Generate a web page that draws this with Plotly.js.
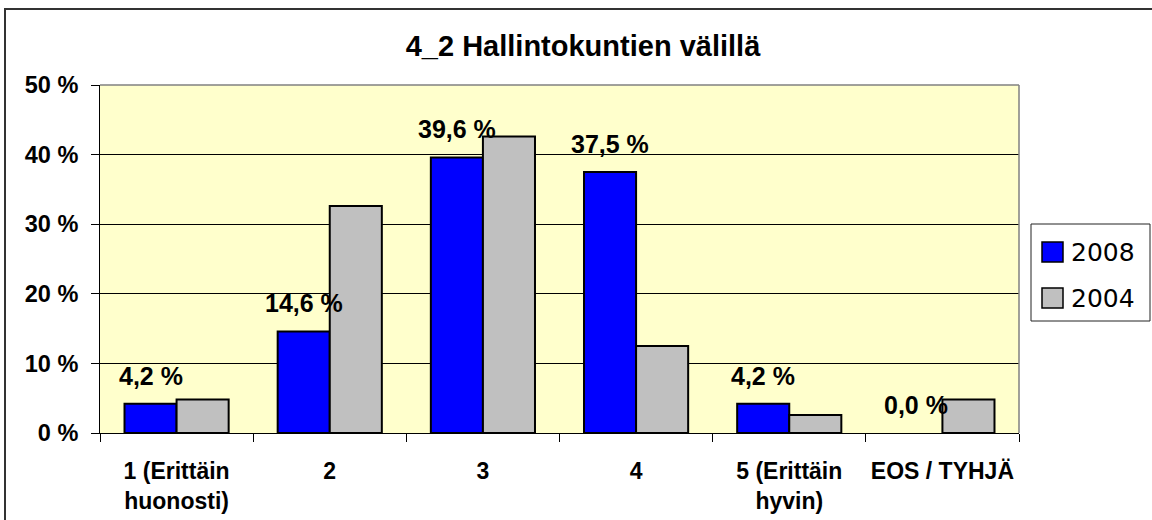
<!DOCTYPE html>
<html>
<head>
<meta charset="utf-8">
<script src="https://cdn.plot.ly/plotly-3.0.1.min.js"></script>
<style>
  html, body { margin: 0; padding: 0; background: #fff; overflow: hidden; }
  #chart { position: absolute; left: 0; top: 0; width: 1152px; height: 520px; }
  #frame { position: absolute; left: 4px; top: 8px; width: 1300px; height: 700px;
           border-left: 2px solid #333; border-top: 2px solid #333; pointer-events: none; }
</style>
</head>
<body>
<div id="chart"></div>
<div id="frame"></div>
<script>
// ---- data ----
const categories = ['1 (Erittäin<br>huonosti)', '2', '3', '4', '5 (Erittäin<br>hyvin)', 'EOS / TYHJÄ'];
const seriesNames = ['2008', '2004'];
const values2008 = [4.2, 14.6, 39.6, 37.5, 4.2, 0.0];
const values2004 = [4.8, 32.6, 42.6, 12.5, 2.6, 4.8];
const yTickVals = [0, 10, 20, 30, 40, 50];
const titleText = '4_2 Hallintokuntien välillä';

// ---- styles ----
const colors = ['#0000FF', '#C0C0C0'];
const FONT = 'Liberation Sans, Arial, sans-serif';

// plot area in pixels
const L = 100, R = 1019, T = 85, B = 433;
const W = 1152, H = 520;
const px2x = p => (p - L) / (R - L);
const px2y = p => (B - p) / (B - T);

const fmt = v => v.toFixed(1).replace('.', ',') + ' %';

const traces = [values2008, values2004].map((vals, i) => ({
  type: 'bar',
  name: seriesNames[i],
  x: categories,
  y: vals,
  marker: { color: colors[i], line: { color: '#000', width: vals.map(v => v === 0 ? 0 : 2) } },
  showlegend: false,
  hoverinfo: 'skip'
}));

// data labels for 2008 series (x by category index)
const annotations = categories.map((c, i) => ({
  x: i, y: values2008[i], xref: 'x', yref: 'y',
  text: fmt(values2008[i]),
  showarrow: false,
  xshift: -26, yshift: 28,
  xanchor: 'center', yanchor: 'middle',
  font: { family: FONT, size: 25, weight: 'bold', color: '#000' }
}));

// manual legend
const shapes = [
  { type: 'line', xref: 'paper', yref: 'paper', x0: 0, x1: 1, y0: 1, y1: 1, line: { color: '#808080', width: 1.5 }, layer: 'above' },
  { type: 'line', xref: 'paper', yref: 'paper', x0: 1, x1: 1, y0: 0, y1: 1, line: { color: '#808080', width: 1.5 }, layer: 'above' },
  { type: 'rect', xref: 'paper', yref: 'paper', x0: px2x(1031), x1: px2x(1150), y0: px2y(224), y1: px2y(321),
    line: { color: '#222', width: 1 }, fillcolor: '#fff', layer: 'above' }
];
const legendRows = [252, 298];
seriesNames.forEach((n, i) => {
  const cy = legendRows[i];
  shapes.push({ type: 'rect', xref: 'paper', yref: 'paper',
    x0: px2x(1042), x1: px2x(1063), y0: px2y(cy - 10), y1: px2y(cy + 10),
    line: { color: '#000', width: 1.5 }, fillcolor: colors[i], layer: 'above' });
  annotations.push({ xref: 'paper', yref: 'paper', x: px2x(1069), y: px2y(cy),
    text: n, showarrow: false, xanchor: 'left', yanchor: 'middle',
    font: { family: 'DejaVu Sans, sans-serif', size: 25, color: '#000' } });
});

const layout = {
  width: W, height: H,
  margin: { l: L, r: W - R, t: T, b: H - B, pad: 0 },
  paper_bgcolor: '#fff',
  plot_bgcolor: '#FFFFCC',
  title: {
    text: titleText,
    font: { family: FONT, size: 29, weight: 'bold', color: '#000' },
    x: 583 / W, xanchor: 'center', xref: 'container',
    y: 1 - 46 / H, yanchor: 'middle', yref: 'container'
  },
  barmode: 'group',
  bargap: 0.32,
  bargroupgap: 0,
  xaxis: {
    type: 'category',
    tickson: 'boundaries',
    ticks: 'outside', ticklen: 8, tickcolor: '#000', tickwidth: 1,
    showline: true, linecolor: '#000', linewidth: 1,
    showgrid: false,
    tickfont: { family: FONT, size: 23, weight: 'bold', color: '#000' },
    ticklabelstandoff: 17
  },
  yaxis: {
    range: [0, 50],
    tickmode: 'array', tickvals: yTickVals,
    ticktext: yTickVals.map(v => v + ' %'),
    ticks: 'outside', ticklen: 8, tickcolor: '#000', tickwidth: 1,
    showline: true, linecolor: '#000', linewidth: 1,
    showgrid: true, gridcolor: '#000', gridwidth: 1,
    zeroline: false,
    tickfont: { family: FONT, size: 23.5, weight: 'bold', color: '#000' },
    ticklabelstandoff: 8
  },
  shapes: shapes,
  annotations: annotations,
  showlegend: false
};

Plotly.newPlot('chart', traces, layout, { staticPlot: true, displayModeBar: false });
</script>
</body>
</html>
